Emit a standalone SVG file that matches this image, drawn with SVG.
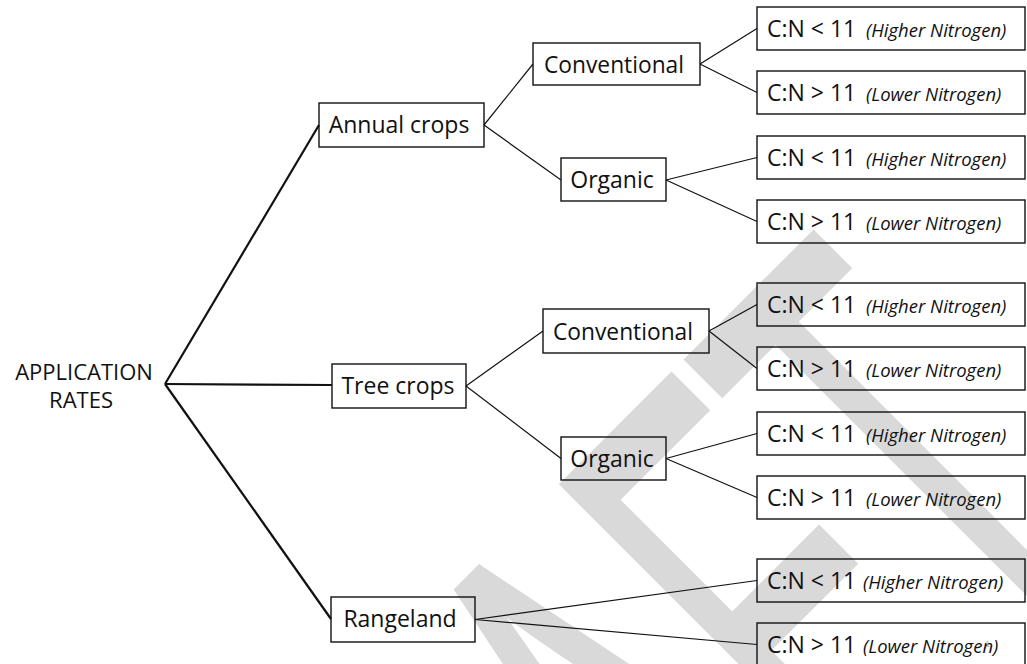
<svg xmlns="http://www.w3.org/2000/svg" width="1027" height="664" viewBox="0 0 1027 664">
<style>
.bg{fill:#ffffff}
.wm{font-family:"Liberation Sans",Arial,sans-serif;font-size:320px;fill:#d9d9d9;stroke:#d9d9d9;stroke-width:3}
.box{fill:none;stroke:#111;stroke-width:1.4}
.t{font-family:"Open Sans","Liberation Sans",sans-serif;font-size:23px;fill:#111}
.it{font-style:italic;font-size:18.5px}
.c{stroke:#111;stroke-width:1.2;fill:none}
.r{stroke:#111;stroke-width:2.2;fill:none}
.pg{font-family:"Liberation Sans",sans-serif;font-size:9px;fill:#b0b0b0}
</style>
<rect class="bg" x="0" y="0" width="1027" height="664"/>
<g id="watermark">
<text class="wm" transform="translate(377,1293) rotate(-45) scale(1,2)">DRAFT</text>
</g>
<g id="connectors">
<line class="r" x1="165" y1="384" x2="319" y2="125"/>
<line class="r" x1="165" y1="384" x2="332" y2="385"/>
<line class="r" x1="165" y1="384" x2="331" y2="619"/>
<line class="c" x1="484" y1="125" x2="533" y2="64"/>
<line class="c" x1="484" y1="125" x2="561" y2="180"/>
<line class="c" x1="700" y1="64" x2="757" y2="28.5"/>
<line class="c" x1="700" y1="64" x2="757" y2="92.5"/>
<line class="c" x1="666" y1="180" x2="757" y2="157.5"/>
<line class="c" x1="666" y1="180" x2="757" y2="221.5"/>
<line class="c" x1="466" y1="386" x2="543" y2="331"/>
<line class="c" x1="466" y1="386" x2="561" y2="458.5"/>
<line class="c" x1="709" y1="331" x2="757" y2="304.5"/>
<line class="c" x1="709" y1="331" x2="757" y2="368.5"/>
<line class="c" x1="666" y1="458.5" x2="757" y2="433.5"/>
<line class="c" x1="666" y1="458.5" x2="757" y2="497.5"/>
<line class="c" x1="475" y1="619.5" x2="757" y2="580.5"/>
<line class="c" x1="475" y1="619.5" x2="757" y2="644.5"/>
</g>
<g id="root">
<text class="t" x="84" y="380" text-anchor="middle" style="font-size:22px">APPLICATION</text>
<text class="t" x="81" y="408" text-anchor="middle" style="font-size:22px">RATES</text>
</g>
<g id="annual-crops">
<rect class="box" x="319" y="103" width="165" height="44"/>
<text class="t" x="399" y="133" text-anchor="middle">Annual crops</text>
</g>
<g id="tree-crops">
<rect class="box" x="332" y="364" width="134" height="44"/>
<text class="t" x="398" y="394" text-anchor="middle">Tree crops</text>
</g>
<g id="rangeland">
<rect class="box" x="331" y="597" width="144" height="45"/>
<text class="t" x="400" y="627" text-anchor="middle">Rangeland</text>
</g>
<g id="annual-conventional">
<rect class="box" x="533" y="43" width="167" height="42"/>
<text class="t" x="614" y="72.5" text-anchor="middle" textLength="140" lengthAdjust="spacingAndGlyphs">Conventional</text>
</g>
<g id="annual-organic">
<rect class="box" x="561" y="158" width="105" height="43"/>
<text class="t" x="612" y="188" text-anchor="middle">Organic</text>
</g>
<g id="tree-conventional">
<rect class="box" x="543" y="309" width="166" height="44"/>
<text class="t" x="623" y="339.5" text-anchor="middle" textLength="140" lengthAdjust="spacingAndGlyphs">Conventional</text>
</g>
<g id="tree-organic">
<rect class="box" x="561" y="437" width="105" height="43"/>
<text class="t" x="612" y="467" text-anchor="middle">Organic</text>
</g>
<g id="leaf-a1">
<rect class="box" x="757" y="7" width="268" height="43"/>
<text class="t" x="767" y="36.5">C:N &lt; 11 <tspan class="it" x="866">(Higher Nitrogen)</tspan></text>
</g>
<g id="leaf-a2">
<rect class="box" x="757" y="71" width="268" height="43"/>
<text class="t" x="767" y="100.5">C:N &gt; 11 <tspan class="it" x="866">(Lower Nitrogen)</tspan></text>
</g>
<g id="leaf-b1">
<rect class="box" x="757" y="136" width="268" height="43"/>
<text class="t" x="767" y="165.5">C:N &lt; 11 <tspan class="it" x="866">(Higher Nitrogen)</tspan></text>
</g>
<g id="leaf-b2">
<rect class="box" x="757" y="200" width="268" height="43"/>
<text class="t" x="767" y="229.5">C:N &gt; 11 <tspan class="it" x="866">(Lower Nitrogen)</tspan></text>
</g>
<g id="leaf-c1">
<rect class="box" x="757" y="283" width="268" height="43"/>
<text class="t" x="767" y="312.5">C:N &lt; 11 <tspan class="it" x="866">(Higher Nitrogen)</tspan></text>
</g>
<g id="leaf-c2">
<rect class="box" x="757" y="347" width="268" height="43"/>
<text class="t" x="767" y="376.5">C:N &gt; 11 <tspan class="it" x="866">(Lower Nitrogen)</tspan></text>
</g>
<g id="leaf-d1">
<rect class="box" x="757" y="412" width="268" height="43"/>
<text class="t" x="767" y="441.5">C:N &lt; 11 <tspan class="it" x="866">(Higher Nitrogen)</tspan></text>
</g>
<g id="leaf-d2">
<rect class="box" x="757" y="476" width="268" height="43"/>
<text class="t" x="767" y="505.5">C:N &gt; 11 <tspan class="it" x="866">(Lower Nitrogen)</tspan></text>
</g>
<g id="leaf-e1">
<rect class="box" x="757" y="559" width="268" height="43"/>
<text class="t" x="767" y="588.5">C:N &lt; 11 <tspan class="it" x="863">(Higher Nitrogen)</tspan></text>
</g>
<g id="leaf-e2">
<rect class="box" x="757" y="623" width="268" height="43"/>
<text class="t" x="767" y="652.5">C:N &gt; 11 <tspan class="it" x="863">(Lower Nitrogen)</tspan></text>
<text class="pg" x="985" y="647">1</text>
</g>
</svg>
